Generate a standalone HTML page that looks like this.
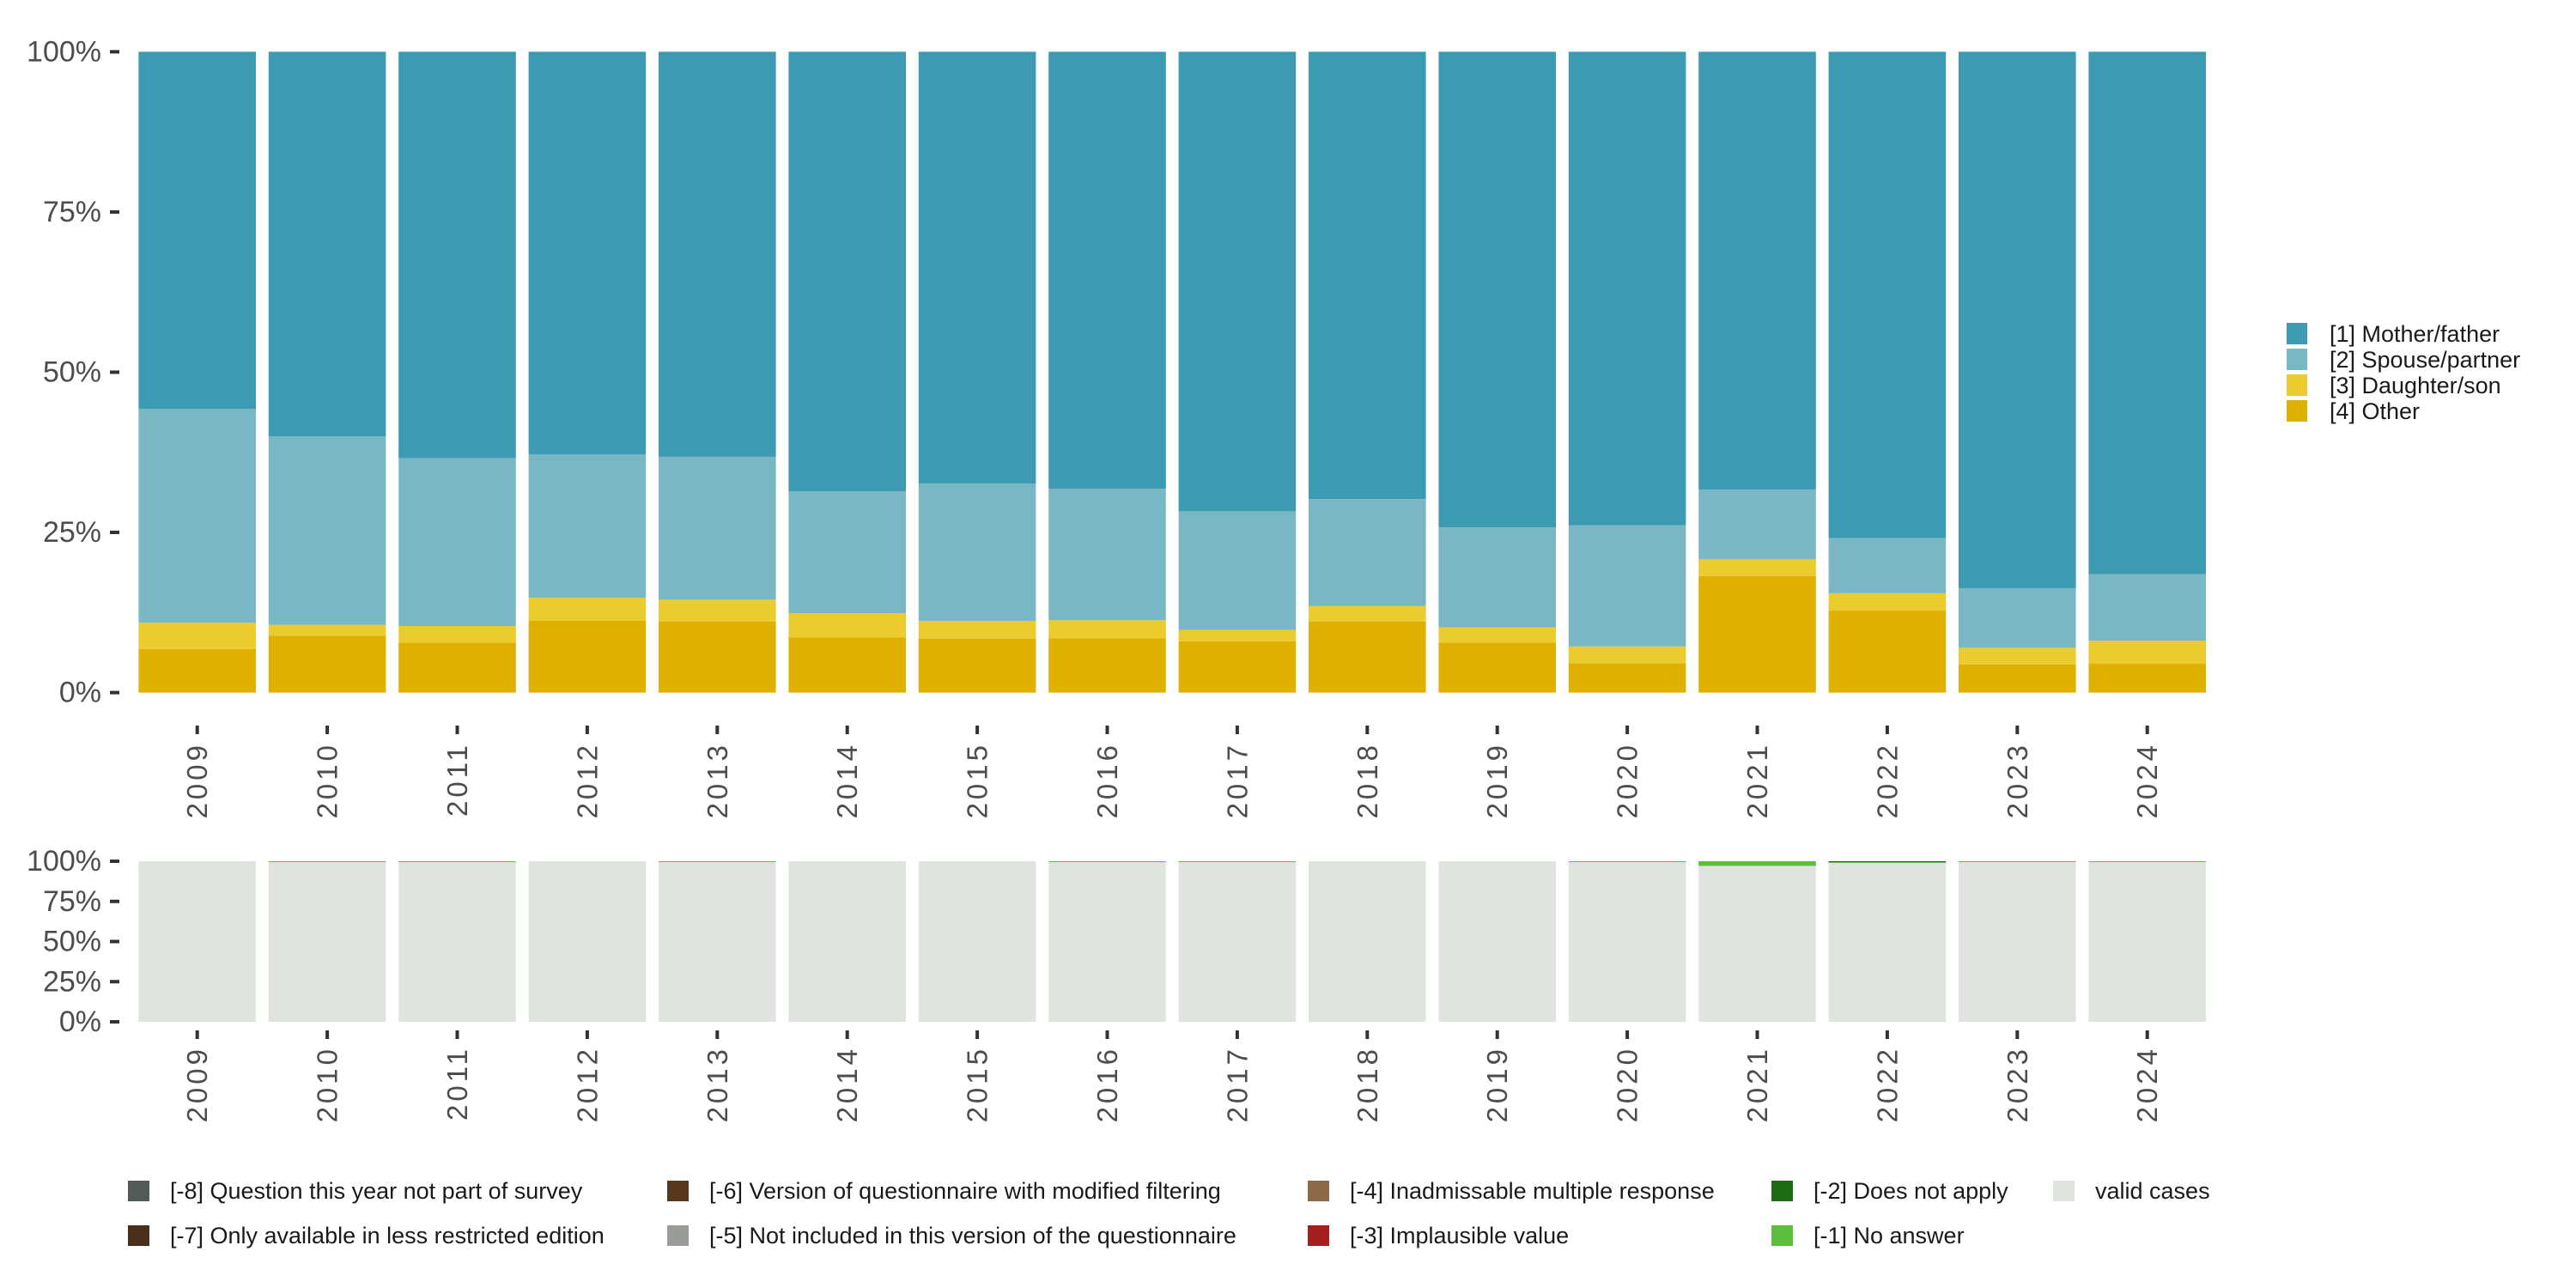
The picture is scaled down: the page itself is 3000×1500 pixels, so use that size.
<!DOCTYPE html>
<html><head><meta charset="utf-8"><style>
html,body{margin:0;padding:0;background:#fff;}
svg{display:block;font-family:"Liberation Sans",sans-serif;}
</style></head><body>
<svg id="chart" width="3000" height="1500" viewBox="0 0 3000 1500" xmlns="http://www.w3.org/2000/svg"></svg>
<script>
const years = ["2009","2010","2011","2012","2013","2014","2015","2016","2017","2018","2019","2020","2021","2022","2023","2024"];
const otherVals = [6.8,8.9,7.8,11.2,11.1,8.6,8.4,8.5,8.0,11.1,7.8,4.6,18.2,12.8,4.4,4.5];
const daughterVals = [4.1,1.7,2.6,3.6,3.4,3.8,2.8,2.8,1.8,2.4,2.4,2.6,2.6,2.7,2.6,3.6];
const spouseVals = [33.4,29.4,26.2,22.4,22.3,19.0,21.4,20.5,18.5,16.7,15.6,18.9,10.9,8.6,9.3,10.4];
const noAnswerVals = [0,0.3,0.3,0,0.3,0,0,0.3,0.3,0,0,0.3,2.9,0.3,0.3,0.3];
const implausibleVals = [0,0,0,0,0,0,0,0,0,0,0,0,0,0.5,0,0];
const yTicks = [0,25,50,75,100];

const svg = document.getElementById('chart');
const NS = "http://www.w3.org/2000/svg";
function mk(tag, attrs, parent){const e=document.createElementNS(NS,tag);for(const k in attrs)e.setAttribute(k,attrs[k]);(parent||svg).appendChild(e);return e;}

const plotLeft=154, step=151.4, barW=136.6;
function xc(i){return plotLeft+step*i+step/2;}
const top1={y100:60.3,y0:806.6}, top2={y100:1003,y0:1190};
function yS(p,pan){return pan.y0-(pan.y0-pan.y100)*p/100;}

const cols={mother:"#3c9ab3",spouse:"#79b7c5",daughter:"#ebcb2e",other:"#e0b000",valid:"#e0e4df",noans:"#5abf3f",impl:"#a51e1e"};

function drawAxis(pan, labelTop, tickTop, fs, prefix){
  yTicks.forEach(t=>{
    const y=yS(t,pan);
    const tk=mk('rect',{x:128,y:y-2,width:11,height:4,fill:"#333"});
    
    
    const tx=mk('text',{x:118,y:y,'text-anchor':'end','dominant-baseline':'central','font-size':fs,fill:"#4d4d4d"});
    tx.textContent=t+"%";
    
    
  });
  years.forEach((yr,i)=>{
    const cx=xc(i);
    const tk=mk('rect',{x:cx-2,y:tickTop,width:4,height:10,fill:"#333"});
    
    
    const tx=mk('text',{x:cx,y:labelTop,'text-anchor':'end','dominant-baseline':'central','font-size':33,fill:"#4d4d4d",'letter-spacing':'4',transform:`rotate(-90 ${cx} ${labelTop})`});
    tx.textContent=yr;
    
    
  });
}

years.forEach((yr,i)=>{
  const x=xc(i)-barW/2;
  const segs=[["other",otherVals[i]],["daughter",daughterVals[i]],["spouse",spouseVals[i]]];
  let acc=0;
  segs.forEach(([k,v])=>{
    const r=mk('rect',{x:x,y:yS(acc+v,top1),width:barW,height:yS(acc,top1)-yS(acc+v,top1),fill:cols[k]});
    
    
    acc+=v;
  });
  const r=mk('rect',{x:x,y:yS(100,top1),width:barW,height:yS(acc,top1)-yS(100,top1),fill:cols.mother});
  
  
});
drawAxis(top1,864,845,34,'top-');

years.forEach((yr,i)=>{
  const x=xc(i)-barW/2;
  const valid=100-noAnswerVals[i]-implausibleVals[i];
  const r=mk('rect',{x:x,y:yS(valid,top2),width:barW,height:yS(0,top2)-yS(valid,top2),fill:cols.valid});
  
  
  if(noAnswerVals[i]>0){
    const a=mk('rect',{x:x,y:yS(valid+noAnswerVals[i],top2),width:barW,height:Math.max(1,yS(valid,top2)-yS(valid+noAnswerVals[i],top2)),fill:cols.noans});
    
    
  }
  if(implausibleVals[i]>0){
    const b=mk('rect',{x:x,y:yS(100,top2),width:barW,height:Math.max(1,yS(100-implausibleVals[i],top2)-yS(100,top2)),fill:cols.impl});
    
    
  }
});
drawAxis(top2,1218,1200,34,'bottom-');

const legTop=[["[1] Mother/father",cols.mother],["[2] Spouse/partner",cols.spouse],["[3] Daughter/son",cols.daughter],["[4] Other",cols.other]];
legTop.forEach((e,i)=>{
  const y=376+i*30;
  const g=mk('g',{});
  
  
  mk('rect',{x:2663,y:y,width:24,height:25,fill:e[1]},g);
  const t=mk('text',{x:2713,y:y+13,'dominant-baseline':'central','font-size':27,fill:"#1a1a1a"},g);
  t.textContent=e[0];
});

const legBot=[
 ["[-8] Question this year not part of survey","#525a55",149,1375],
 ["[-7] Only available in less restricted edition","#4a2e19",149,1427],
 ["[-6] Version of questionnaire with modified filtering","#57381d",777,1375],
 ["[-5] Not included in this version of the questionnaire","#999c97",777,1427],
 ["[-4] Inadmissable multiple response","#8c6a48",1523,1375],
 ["[-3] Implausible value","#a51e1e",1523,1427],
 ["[-2] Does not apply","#1d6b12",2063,1375],
 ["[-1] No answer","#5abf3f",2063,1427],
 ["valid cases","#e0e4df",2391,1375]
];
legBot.forEach(e=>{
  const g=mk('g',{});
  
  
  mk('rect',{x:e[2],y:e[3],width:25,height:24,fill:e[1]},g);
  const t=mk('text',{x:e[2]+49,y:e[3]+12,'dominant-baseline':'central','font-size':27,fill:"#1a1a1a"},g);
  t.textContent=e[0];
});
</script>
</body></html>
